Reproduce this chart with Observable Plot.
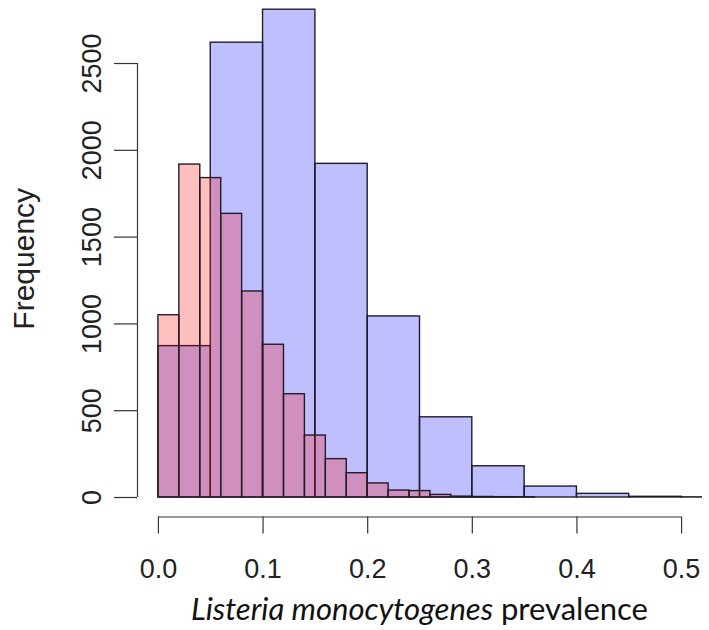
<!DOCTYPE html>
<html><head><meta charset="utf-8">
<script src="https://cdn.jsdelivr.net/npm/d3@7"></script>
<script src="https://cdn.jsdelivr.net/npm/@observablehq/plot@0.6"></script>
<style>body{margin:0;background:#fff} svg{display:block}</style>
</head><body><div id="chart"></div>
<script>
// Blue histogram (bin width 0.05)
const blueEdges = [0, 0.05, 0.10, 0.15, 0.20, 0.25, 0.30, 0.35, 0.40, 0.45, 0.50, 0.55];
const blueCounts = [872, 2620, 2810, 1922, 1043, 462, 180, 63, 21, 4, 1];
// Red histogram (bin width 0.02)
const redEdges = [0, 0.02, 0.04, 0.06, 0.08, 0.10, 0.12, 0.14, 0.16, 0.18, 0.20, 0.22, 0.24, 0.26, 0.28, 0.30, 0.32, 0.34, 0.36];
const redCounts = [1050, 1918, 1840, 1634, 1187, 880, 595, 357, 221, 140, 81, 40, 37, 15, 5, 3, 2, 1];
const xTicks = [0, 0.1, 0.2, 0.3, 0.4, 0.5];
const yTicks = [0, 500, 1000, 1500, 2000, 2500];
const yLabel = "Frequency";
const xLabelItalic = "Listeria monocytogenes";
const xLabelRest = " prevalence";

const xDomain = [-0.02, 0.52];
const yDomain = [-112.3, 2863];

const blue = blueCounts.map((n, i) => ({x1: blueEdges[i], x2: blueEdges[i + 1], n}));
const red = redCounts.map((n, i) => ({x1: redEdges[i], x2: redEdges[i + 1], n}));

const ink = "#1e1e28";
const font = "Liberation Sans";

const plot = Plot.plot({
  width: 709,
  height: 630,
  marginLeft: 137,
  marginRight: 7,
  marginTop: 0,
  marginBottom: 113.5,
  style: {fontFamily: font, background: "#fff", color: "#222"},
  x: {domain: xDomain},
  y: {domain: yDomain},
  marks: [
    Plot.rect(blue, {x1: "x1", x2: "x2", y1: 0, y2: "n", fill: "blue", fillOpacity: 0.25, stroke: ink, strokeWidth: 1.4, clip: true}),
    Plot.rect(red, {x1: "x1", x2: "x2", y1: 0, y2: "n", fill: "red", fillOpacity: 0.25, stroke: ink, strokeWidth: 1.4, clip: true}),
    // R-style axes
    Plot.ruleY([yDomain[0]], {x1: xTicks[0], x2: xTicks[xTicks.length - 1], stroke: "#333", strokeWidth: 1.2}),
    Plot.ruleX([xDomain[0]], {y1: yTicks[0], y2: yTicks[yTicks.length - 1], stroke: "#333", strokeWidth: 1.2}),
    Plot.axisX({ticks: xTicks, tickSize: 17, tickPadding: 25, tickFormat: d3.format(".1f"), fontSize: 27, fontFamily: font, label: null, stroke: "#333", strokeWidth: 1.2, fill: "#222"}),
    Plot.axisY({ticks: yTicks, tickSize: 23, tickFormat: () => "", label: null, stroke: "#333", strokeWidth: 1.2}),
    Plot.text(yTicks, {y: d => d, text: d => String(d), frameAnchor: "left", dx: -37, rotate: -90, textAnchor: "middle", lineAnchor: "bottom", fontSize: 27, fontFamily: font, fill: "#222"}),
    Plot.text([yLabel], {text: d => d, frameAnchor: "left", dx: -104, rotate: -90, textAnchor: "middle", lineAnchor: "bottom", fontSize: 30, fontFamily: font, fill: "#222"})
  ]
});

const svg = d3.select(plot);
const t = svg.append("text")
  .attr("x", 419.5).attr("y", 620)
  .attr("text-anchor", "middle")
  .attr("font-family", "Lato, 'Open Sans', sans-serif")
  .attr("font-size", 31)
  .attr("fill", "#111");
t.append("tspan").attr("font-style", "italic").text(xLabelItalic);
t.append("tspan").text(xLabelRest);

document.getElementById("chart").appendChild(plot);
</script>
</body></html>
